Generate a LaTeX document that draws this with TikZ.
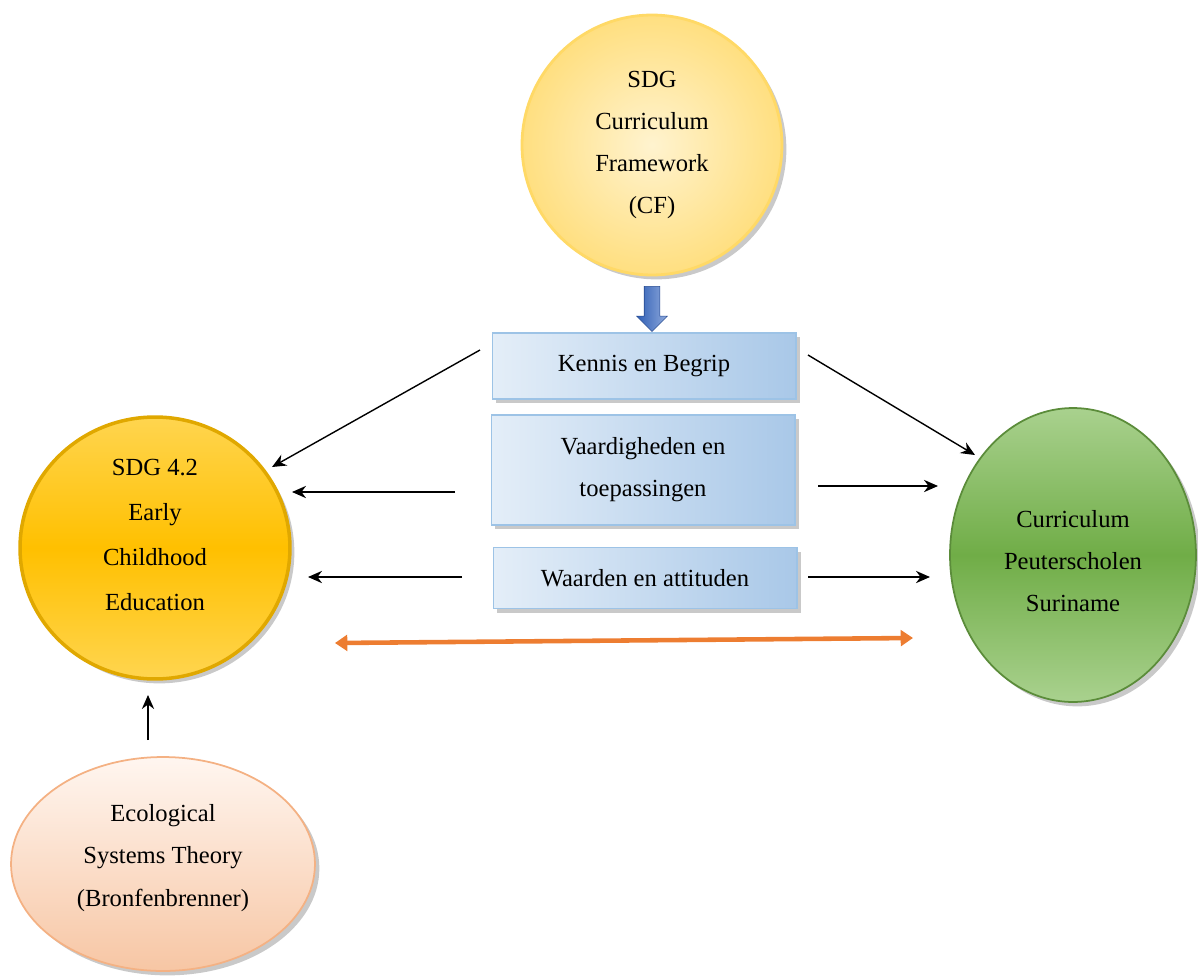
\documentclass[tikz,border=0pt]{standalone}
\usepackage{fontspec}
\setmainfont{Liberation Serif}
\usetikzlibrary{shapes.geometric,shapes.arrows,arrows.meta,shadows}

\definecolor{cfIn}{HTML}{FFF3CF}
\definecolor{cfOut}{HTML}{FFDF80}
\definecolor{cfLine}{HTML}{FFD966}
\definecolor{eceMid}{HTML}{FFC000}
\definecolor{eceEdge}{HTML}{FFD54F}
\definecolor{eceLine}{HTML}{E0A800}
\definecolor{psMid}{HTML}{70AD47}
\definecolor{psEdge}{HTML}{A9D18E}
\definecolor{psLine}{HTML}{5B8C3A}
\definecolor{estTop}{HTML}{FFF6F0}
\definecolor{estBot}{HTML}{F7C6A4}
\definecolor{estLine}{HTML}{F4B183}
\definecolor{boxL}{HTML}{E4EEF8}
\definecolor{boxR}{HTML}{A9C8E8}
\definecolor{boxLine}{HTML}{9DC3E6}
\definecolor{arrL}{HTML}{2F5EB5}
\definecolor{arrR}{HTML}{8FAADC}
\definecolor{linkOrange}{HTML}{ED7D31}

\begin{document}
\begin{tikzpicture}[x=0.02cm, y=-0.02cm,
  every node/.style={font=\fontsize{14}{24}\selectfont, align=center, inner sep=0pt},
  shade/.style={drop shadow={shadow xshift=2.5pt, shadow yshift=-2.5pt, opacity=0.3, fill=black!70}},
  cfnode/.style={circle, minimum size=5.2cm, inner color=cfIn, outer color=cfOut, draw=cfLine, line width=1.6pt, shade},
  ecenode/.style={ellipse, minimum width=5.4cm, minimum height=5.24cm, top color=eceEdge, bottom color=eceEdge, middle color=eceMid, draw=eceLine, line width=2pt, shade},
  psnode/.style={ellipse, minimum width=4.92cm, minimum height=5.88cm, top color=psEdge, bottom color=psEdge, middle color=psMid, draw=psLine, line width=1pt, shade},
  estnode/.style={ellipse, minimum width=6.08cm, minimum height=4.28cm, top color=estTop, bottom color=estBot, draw=estLine, line width=1pt, shade},
  kbox/.style={rectangle, minimum width=6.08cm, left color=boxL, right color=boxR, draw=boxLine, line width=0.6pt, shade},
  arr/.style={-{Stealth[length=8pt,width=7pt]}, line width=0.8pt},
]
\useasboundingbox (0,0) rectangle (1198,978);

\node[cfnode] (cf) at (652,145) {SDG\\Curriculum\\Framework\\(CF)};
\node[single arrow, shape border rotate=270, minimum height=0.9cm, inner sep=0.15cm,
  single arrow head extend=0.15cm, left color=arrL, right color=arrR, draw=arrL!80!black, line width=0.3pt] (down) at (652,305) {};

\node[kbox, minimum height=1.32cm] (kb) at (644,366) {Kennis en Begrip};
\node[kbox, minimum height=2.2cm] (vt) at (643,470) {Vaardigheden en\\toepassingen};
\node[kbox, minimum height=1.22cm] (wa) at (645,578) {Waarden en attituden};

\node[ecenode, label={[name=eceText, yshift=0.26cm, font=\fontsize{14}{25.5}\selectfont]center:SDG 4.2\\Early\\Childhood\\Education}] (ece) at (155,548) {};
\node[psnode, label={[name=psText, yshift=-0.12cm]center:Curriculum\\Peuterscholen\\Suriname}] (ps) at (1073,555) {};
\node[estnode, label={[name=estText, yshift=0.12cm]center:Ecological\\Systems Theory\\(Bronfenbrenner)}] (est) at (163,864) {};

\coordinate (kbL) at (480,350);
\coordinate (eceA) at (272,467);
\coordinate (vtL) at (455,492);
\coordinate (eceB) at (292,492);
\coordinate (waL) at (462,577);
\coordinate (eceC) at (308,577);
\coordinate (kbR) at (808,355);
\coordinate (psA) at (975,455);
\coordinate (vtR) at (818,486);
\coordinate (psB) at (938,486);
\coordinate (waR) at (808,577);
\coordinate (psC) at (930,577);
\coordinate (linkL) at (335,643);
\coordinate (linkR) at (913,638);
\coordinate (estT) at (148,740);
\coordinate (eceD) at (148,695);

\draw[arr] (kbL) -- (eceA);
\draw[arr] (vtL) -- (eceB);
\draw[arr] (waL) -- (eceC);
\draw[arr] (kbR) -- (psA);
\draw[arr] (vtR) -- (psB);
\draw[arr] (waR) -- (psC);
\draw[arr] (estT) -- (eceD);
\draw[{Triangle[length=7pt,width=9pt]}-{Triangle[length=7pt,width=9pt]}, linkOrange, line width=2.6pt] (linkL) -- (linkR);
\end{tikzpicture}
\end{document}
